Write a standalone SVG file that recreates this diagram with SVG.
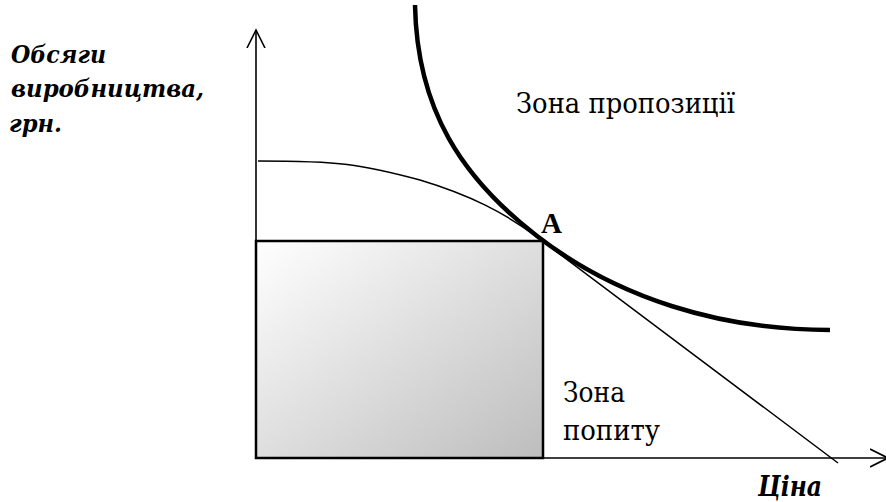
<svg xmlns="http://www.w3.org/2000/svg" width="886" height="502" viewBox="0 0 886 502">
<defs>
<linearGradient id="g" x1="0" y1="0" x2="1" y2="1">
<stop offset="0" stop-color="#ffffff"/>
<stop offset="1" stop-color="#bdbdbd"/>
</linearGradient>
<marker id="open" markerWidth="20" markerHeight="20" refX="18" refY="10" orient="auto" markerUnits="userSpaceOnUse">
<path d="M0,1 L18,10 L0,19" fill="none" stroke="#000" stroke-width="1.6"/>
</marker>
</defs>
<style>
.ax{stroke:#000;stroke-width:1.6;fill:none}
.lbl{font-family:"DejaVu Serif","Liberation Serif",serif;font-weight:bold;font-style:italic;font-size:25px;fill:#000}
.txt{font-family:"DejaVu Serif","Liberation Serif",serif;font-size:27px;fill:#000}
</style>
<g id="area">
<rect x="256" y="241" width="287" height="217" fill="url(#g)" stroke="#000" stroke-width="2.5"/>
</g>
<g id="connectors">
<line class="ax" x1="256" y1="458" x2="256" y2="30" marker-end="url(#open)"/>
<line class="ax" x1="256" y1="458" x2="888" y2="458" marker-end="url(#open)"/>
<path id="demand" d="M258,161 C340,161 360,164 420,180 C470,195 505,213 537,237 L838,463" fill="none" stroke="#000" stroke-width="1.5"/>
<path id="supply" d="M415,5 C417,110 462,178 537,236 C617,298 720,330 830,330" fill="none" stroke="#000" stroke-width="4.5"/>
</g>
<g id="labels">
<text class="lbl" x="11" y="63" textLength="95" lengthAdjust="spacingAndGlyphs">Обсяги</text>
<text class="lbl" x="11" y="97" textLength="193" lengthAdjust="spacingAndGlyphs">виробництва,</text>
<text class="lbl" x="9" y="132" textLength="53" lengthAdjust="spacingAndGlyphs">грн.</text>
<text class="lbl" x="758" y="496" textLength="64" lengthAdjust="spacingAndGlyphs" style="font-size:28px">Ціна</text>
<text class="txt" x="516" y="113" textLength="219" lengthAdjust="spacingAndGlyphs">Зона пропозиції</text>
<text class="txt" x="563" y="402" textLength="62" lengthAdjust="spacingAndGlyphs">Зона</text>
<text class="txt" x="563" y="440" textLength="97" lengthAdjust="spacingAndGlyphs">попиту</text>
<text x="541" y="233" style="font-family:'Liberation Serif','Times New Roman',serif;font-weight:bold;font-size:29px">A</text>
</g>
</svg>
